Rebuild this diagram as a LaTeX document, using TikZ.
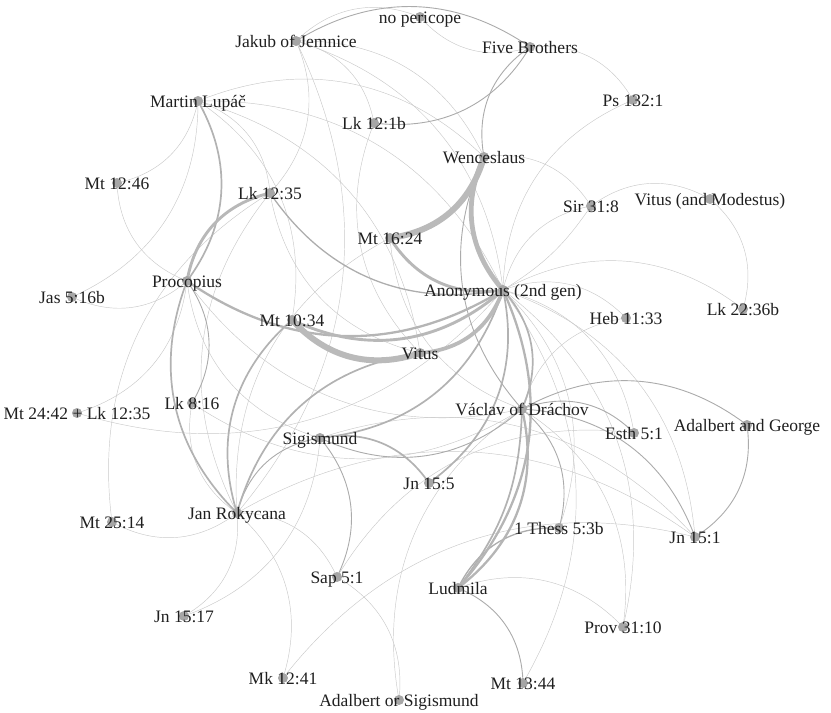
\documentclass[tikz,border=0pt]{standalone}
\usepackage{fontspec}
\setmainfont{Liberation Serif}
\begin{document}
\begin{tikzpicture}[x=1pt,y=1pt,
  e0/.style={line width=0.45pt,draw=black!21},
  w1/.style={line width=0.9pt,draw=black!33},
  w15/.style={line width=1.3pt,draw=black!32},
  w2/.style={line width=1.7pt,draw=black!30},
  w25/.style={line width=2.3pt,draw=black!29},
  w3/.style={line width=2.9pt,draw=black!28},
  w4/.style={line width=3.8pt,draw=black!27},
  w5/.style={line width=4.8pt,draw=black!27},
  w6/.style={line width=6pt,draw=black!27},
  dot/.style={circle,fill=black!35,inner sep=0pt,minimum size=10pt},
  lab/.style={anchor=base,inner sep=0pt,font=\fontsize{17.5}{20}\selectfont,text=black!88}]
\useasboundingbox (0,0) rectangle (831,-713);
% node positions
\coordinate (nop) at (420,-17);
\coordinate (jak) at (296,-41);
\coordinate (five) at (530,-47);
\coordinate (mlu) at (198,-101);
\coordinate (lk121) at (374,-123);
\coordinate (ps132) at (633,-100);
\coordinate (wen) at (484,-157);
\coordinate (mt1246) at (117,-183);
\coordinate (lk1235) at (270,-193);
\coordinate (sir) at (591,-206);
\coordinate (vitm) at (710,-199);
\coordinate (mt1624) at (390,-238);
\coordinate (pro) at (187,-281);
\coordinate (jas) at (72,-297);
\coordinate (ano) at (503,-290);
\coordinate (lk2236) at (743,-309);
\coordinate (heb) at (626,-318);
\coordinate (mt1034) at (292,-320);
\coordinate (vit) at (420,-353);
\coordinate (lk816) at (192,-403);
\coordinate (mt2442) at (77,-413);
\coordinate (vac) at (522,-409);
\coordinate (esth) at (634,-433);
\coordinate (adg) at (747,-425);
\coordinate (sig) at (320,-438);
\coordinate (jn155) at (429,-483);
\coordinate (rok) at (237,-513);
\coordinate (mt2514) at (112,-522);
\coordinate (thess) at (559,-528);
\coordinate (jn151) at (695,-537);
\coordinate (sap) at (337,-577);
\coordinate (lud) at (458,-588);
\coordinate (jn1517) at (184,-616);
\coordinate (prov) at (623,-627);
\coordinate (mk) at (283,-678);
\coordinate (mt1344) at (523,-683);
\coordinate (aos) at (399,-700);
% thin edges
\foreach \a/\b/\s in {lud/prov/left, sap/esth/left, rok/jn151/left, mk/jn151/left,
  rok/mt2514/left, rok/jn1517/left, rok/mk/left, rok/sap/left, sig/jn1517/left,
  pro/jas/left, pro/mt1246/left, mlu/mt1246/left, mlu/jas/left, mlu/lk1235/left,
  mlu/mt1034/left, mlu/wen/left, mlu/ano/left, mlu/vit/left, jak/nop/left,
  nop/five/right, five/ps132/left, jak/lk121/left, jak/lk1235/left, jak/rok/left,
  jak/wen/left, jak/ano/left, lk121/vit/right, ano/sir/left, sir/vitm/left,
  vitm/lk2236/left, ano/lk2236/left, ano/heb/left, ano/ps132/left, wen/sir/left,
  pro/mt2442/left, pro/vac/right, pro/sig/right, lk816/vac/right,
  mt2442/ano/right, ano/esth/left, ano/jn151/left, ano/thess/left, ano/prov/left,
  ano/mt1344/left, vac/heb/left, vac/prov/left, aos/vac/left, sap/aos/left,
  sig/jn151/left, rok/lk1235/left, rok/mt1624/left, lk1235/vit/right,
  mt1624/vac/right, mt2514/lk1235/left, lk816/rok/right}
  \draw[e0] (\a) to[bend \s=33] (\b);
\draw[e0] (ano) to[bend right=12] (sir);
% medium edges
\draw[w1] (rok) to[bend left=33] (sig);
\draw[w1] (sig) to[bend left=33] (sap);
\draw[w1] (sig) to[bend right=33] (vac);
\draw[w1] (wen) to[bend right=33] (vac);
\draw[w1] (vac) to[bend left=33] (thess);
\draw[w1] (vac) to[bend left=33] (jn151);
\draw[w1] (adg) to[bend left=33] (jn151);
\draw[w1] (vac) to[bend left=33] (adg);
\draw[w1] (lud) to[bend left=33] (mt1344);
\draw[w1] (vac) to[bend left=33] (esth);
\draw[w1] (jak) to[bend left=33] (five);
\draw[w1] (five) to[bend left=33] (lk121);
\draw[w1] (five) to[bend right=33] (wen);
\draw[w1] (pro) to[bend left=33] (lk816);
\draw[w15] (lk1235) to[bend right=33] (ano);
\draw[w15] (lud) to[bend left=33] (thess);
\draw[w2] (mlu) to[bend left=33] (pro);
\draw[w2] (pro) to[bend right=33] (rok);
\draw[w2] (rok) to[bend left=33] (mt1034);
\draw[w2] (rok) to[bend left=33] (vit);
\draw[w2] (sig) to[bend right=33] (ano);
\draw[w2] (sig) to[bend left=33] (jn155);
\draw[w2] (ano) to[bend left=33] (vac);
\draw[w2] (vac) to[bend left=18] (lud);
\draw[w2] (jn155) to[bend right=33] (ano);
\draw[w25] (vac) to[bend left=33] (lud);
\draw[w25] (ano) to[bend left=33] (lud);
\draw[w25] (pro) to[bend right=33] (ano);
% thick edges
\draw[w3] (mt1624) to[bend right=33] (ano);
\draw[w3] (mt1034) to[bend right=33] (ano);
\draw[w3] (pro) to[bend left=33] (lk1235);
\draw[w4] (vit) to[bend right=33] (ano);
\draw[w5] (wen) to[bend right=33] (ano);
\draw[w6] (wen) to[bend left=33] (mt1624);
\draw[w6] (mt1034) to[bend right=33] (vit);
% dots
\foreach \n in {nop,jak,five,mlu,lk121,ps132,wen,mt1246,lk1235,sir,vitm,mt1624,pro,jas,ano,
  lk2236,heb,mt1034,vit,lk816,mt2442,vac,esth,adg,sig,jn155,rok,mt2514,thess,jn151,sap,lud,
  jn1517,prov,mk,mt1344,aos}
  \node[dot] (d-\n) at (\n) {};
% labels
\node[lab] (l-nop) at ([yshift=-6pt]nop) {no pericope};
\node[lab] (l-jak) at ([yshift=-6pt]jak) {Jakub of Jemnice};
\node[lab] (l-five) at ([yshift=-6pt]five) {Five Brothers};
\node[lab] (l-mlu) at ([yshift=-6pt]mlu) {Martin Lupáč};
\node[lab] (l-lk121) at ([yshift=-6pt]lk121) {Lk 12:1b};
\node[lab] (l-ps132) at ([yshift=-6pt]ps132) {Ps 132:1};
\node[lab] (l-wen) at ([yshift=-6pt]wen) {Wenceslaus};
\node[lab] (l-mt1246) at ([yshift=-6pt]mt1246) {Mt 12:46};
\node[lab] (l-lk1235) at ([yshift=-6pt]lk1235) {Lk 12:35};
\node[lab] (l-sir) at ([yshift=-6pt]sir) {Sir 31:8};
\node[lab] (l-vitm) at ([yshift=-6pt]vitm) {Vitus (and Modestus)};
\node[lab] (l-mt1624) at ([yshift=-6pt]mt1624) {Mt 16:24};
\node[lab] (l-pro) at ([yshift=-6pt]pro) {Procopius};
\node[lab] (l-jas) at ([yshift=-6pt]jas) {Jas 5:16b};
\node[lab] (l-ano) at ([yshift=-6pt]ano) {Anonymous (2nd gen)};
\node[lab] (l-lk2236) at ([yshift=-6pt]lk2236) {Lk 22:36b};
\node[lab] (l-heb) at ([yshift=-6pt]heb) {Heb 11:33};
\node[lab] (l-mt1034) at ([yshift=-6pt]mt1034) {Mt 10:34};
\node[lab] (l-vit) at ([yshift=-6pt]vit) {Vitus};
\node[lab] (l-lk816) at ([yshift=-6pt]lk816) {Lk 8:16};
\node[lab] (l-mt2442) at ([yshift=-6pt]mt2442) {Mt 24:42 + Lk 12:35};
\node[lab] (l-vac) at ([yshift=-6pt]vac) {Václav of Dráchov};
\node[lab] (l-esth) at ([yshift=-6pt]esth) {Esth 5:1};
\node[lab] (l-adg) at ([yshift=-6pt]adg) {Adalbert and George};
\node[lab] (l-sig) at ([yshift=-6pt]sig) {Sigismund};
\node[lab] (l-jn155) at ([yshift=-6pt]jn155) {Jn 15:5};
\node[lab] (l-rok) at ([yshift=-6pt]rok) {Jan Rokycana};
\node[lab] (l-mt2514) at ([yshift=-6pt]mt2514) {Mt 25:14};
\node[lab] (l-thess) at ([yshift=-6pt]thess) {1 Thess 5:3b};
\node[lab] (l-jn151) at ([yshift=-6pt]jn151) {Jn 15:1};
\node[lab] (l-sap) at ([yshift=-6pt]sap) {Sap 5:1};
\node[lab] (l-lud) at ([yshift=-6pt]lud) {Ludmila};
\node[lab] (l-jn1517) at ([yshift=-6pt]jn1517) {Jn 15:17};
\node[lab] (l-prov) at ([yshift=-6pt]prov) {Prov 31:10};
\node[lab] (l-mk) at ([yshift=-6pt]mk) {Mk 12:41};
\node[lab] (l-mt1344) at ([yshift=-6pt]mt1344) {Mt 13:44};
\node[lab] (l-aos) at ([yshift=-6pt]aos) {Adalbert or Sigismund};
\end{tikzpicture}
\end{document}
